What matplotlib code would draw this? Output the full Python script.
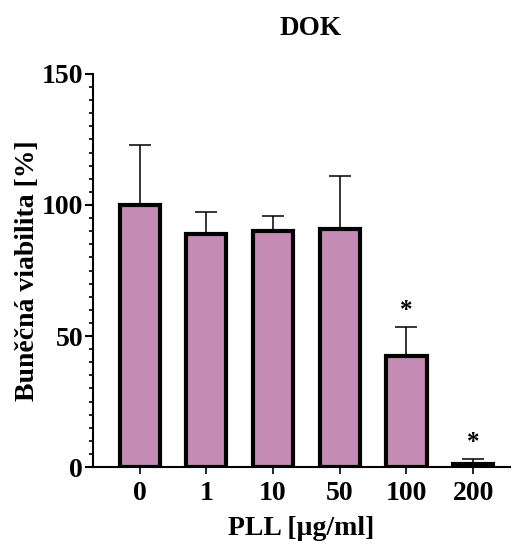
import matplotlib.pyplot as plt
from matplotlib.ticker import MultipleLocator

categories = ["0", "1", "10", "50", "100", "200"]
viability = [100, 89, 90, 91, 42.5, 1]
sd_upper = [23, 8.2, 5.7, 20, 11, 1.9]
stars = ["", "", "", "", "*", "*"]

plt.rcParams['font.family'] = ['Liberation Serif', 'DejaVu Serif']
plt.rcParams['font.weight'] = 'bold'

fig = plt.figure(figsize=(5.13, 5.44), dpi=100)
ax = fig.add_axes([0.181, 0.1415, 0.813, 0.7225])

x = list(range(len(categories)))
ax.bar(x, viability, width=0.6, color='#C48BB5', edgecolor='black', linewidth=3, zorder=2)
ax.errorbar(x, viability, yerr=[[0] * len(x), sd_upper], fmt='none', ecolor='black',
            elinewidth=1.1, capsize=8, capthick=1.1, zorder=1)

for xi, v, e, s in zip(x, viability, sd_upper, stars):
    if s:
        ax.text(xi, v + e + 2, s, ha='center', va='bottom', fontsize=18, fontweight='bold')

ax.set_xlim(-0.7, 5.55)
ax.set_ylim(0, 150)
ax.set_xticks(x)
ax.set_xticklabels(categories)
ax.yaxis.set_major_locator(MultipleLocator(50))
ax.yaxis.set_minor_locator(MultipleLocator(5))

for side in ['top', 'right']:
    ax.spines[side].set_visible(False)
for side in ['left', 'bottom']:
    ax.spines[side].set_linewidth(1.5)

ax.tick_params(axis='y', which='major', length=6, width=1.5, labelsize=20, pad=1)
ax.tick_params(axis='y', which='minor', length=3, width=1.2)
ax.tick_params(axis='x', which='major', length=5, width=1.2, labelsize=20, pad=5)

ax.set_ylabel("Buněčná viabilita [%]", fontsize=20, fontweight='bold', labelpad=1)
ax.set_xlabel("PLL [µg/ml]", fontsize=20, fontweight='bold', labelpad=7)
fig.text(0.605, 0.948, "DOK", ha='center', va='center', fontsize=19.5, fontweight='bold')

fig.savefig('out.png', dpi=100)
